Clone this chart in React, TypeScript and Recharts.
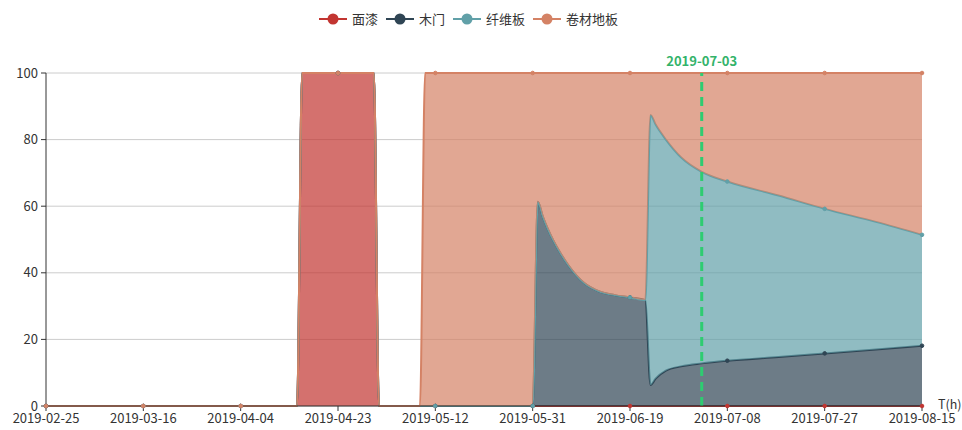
import React from 'react';
import { ComposedChart, Area, XAxis, YAxis, CartesianGrid, ReferenceLine, Label } from 'recharts';

// day offsets from 2019-02-25
const days = [0, 19, 38, 49, 50, 57, 64, 65, 73, 74, 76, 95, 96, 97, 98, 99, 100, 102, 105, 108, 111, 114, 117, 118, 119, 121, 124, 128, 133, 143, 152, 162, 171];
const mianqi = [0, 0, 0, 0, 100, 100, 100, 0, 0, 0, 0, 0, 0, 0, 0, 0, 0, 0, 0, 0, 0, 0, 0, 0, 0, 0, 0, 0, 0, 0, 0, 0, 0];
const mumen = [0, 0, 0, 0, 0, 0, 0, 0, 0, 0, 0, 0, 61.3, 56.8, 53, 49.8, 47, 42.2, 37, 34.4, 33.3, 32.6, 31.8, 6.3, 8.2, 10.6, 11.9, 12.8, 13.6, 14.7, 15.8, 17.0, 18.1];
const xianweiban = [0, 0, 0, 0, 0, 0, 0, 0, 0, 0, 0, 0, 0, 0, 0, 0, 0, 0, 0, 0, 0, 0, 0, 81.1, 76.3, 69.4, 62.7, 57.5, 53.8, 48.5, 43.4, 38.3, 33.3];
const juancai = [0, 0, 0, 0, 0, 0, 0, 0, 0, 100, 100, 100, 38.7, 43.2, 47, 50.2, 53, 57.8, 63, 65.6, 66.7, 67.4, 68.2, 12.6, 15.5, 20, 25.4, 29.7, 32.6, 36.8, 40.8, 44.7, 48.6];

const tickDays = [0, 19, 38, 57, 76, 95, 114, 133, 152, 171];
const tickLabels = ['2019-02-25', '2019-03-16', '2019-04-04', '2019-04-23', '2019-05-12', '2019-05-31', '2019-06-19', '2019-07-08', '2019-07-27', '2019-08-15'];
const yTicks = [0, 20, 40, 60, 80, 100];
const markDay = 128;
const markLabel = '2019-07-03';

const seriesNames = ['面漆', '木门', '纤维板', '卷材地板'];
const seriesKeys = ['mianqi', 'mumen', 'xianweiban', 'juancai'];
const seriesValues = [mianqi, mumen, xianweiban, juancai];
const colors = ['#c23531', '#2f4554', '#61a0a8', '#d48265'];

const data = days.map((d, i) => {
  const row: Record<string, number> = { day: d };
  seriesKeys.forEach((k, j) => { row[k] = seriesValues[j][i]; });
  return row;
});

const tickSet = new Set(tickDays);
const FONT = '"Noto Sans CJK SC", "Noto Sans", sans-serif';

const makeDot = (color: string) => (props: any) => {
  const { cx, cy, payload, index } = props;
  if (!payload || !tickSet.has(payload.day)) return <g key={`e${index}`} />;
  return <circle key={`c${index}`} cx={cx} cy={cy} r={1.8} fill={color} stroke={color} strokeWidth={1} />;
};

const fmt = (v: number) => {
  const i = tickDays.indexOf(v);
  return i >= 0 ? tickLabels[i] : '';
};

export default function App() {
  return (
    <div style={{ position: 'absolute', left: 0, top: 0, width: 962, height: 430, background: '#fff', fontFamily: FONT }}>
      <div style={{ position: 'absolute', left: 319, top: 11, display: 'flex', alignItems: 'center', height: 16 }}>
        {seriesNames.map((n, i) => (
          <div key={n} style={{ display: 'flex', alignItems: 'center', marginRight: 8 }}>
            <svg width={28} height={14} style={{ display: 'block' }}>
              <line x1={0} y1={7} x2={28} y2={7} stroke={colors[i]} strokeWidth={2} />
              <circle cx={14} cy={7} r={5.5} fill={colors[i]} />
            </svg>
            <span style={{ fontSize: 13, color: '#333', marginLeft: 5, lineHeight: '16px' }}>{n}</span>
          </div>
        ))}
      </div>
      <ComposedChart width={962} height={430} data={data} margin={{ top: 73, right: 40, bottom: 0, left: 0 }}>
        <CartesianGrid vertical={false} stroke="#ccc" />
        <XAxis
          dataKey="day"
          type="number"
          domain={[0, 171]}
          ticks={tickDays}
          tickFormatter={fmt}
          interval={0}
          height={24}
          tickSize={5}
          tickMargin={3}
          stroke="#333"
          tick={{ fill: '#333', fontSize: 13, fontFamily: FONT }}
        >
          <Label
            content={(p: any) => {
              const vb = p.viewBox || {};
              return (
                <text x={vb.x + vb.width + 16} y={vb.y - 1} dy="0.35em" fill="#333" fontSize={12.5} fontFamily={FONT}>
                  T(h)
                </text>
              );
            }}
          />
        </XAxis>
        <YAxis
          type="number"
          domain={[0, 100]}
          ticks={yTicks}
          width={46}
          tickSize={5}
          tickMargin={3}
          stroke="#333"
          tick={{ fill: '#333', fontSize: 13, fontFamily: FONT }}
        />
        {seriesKeys.map((k, i) => (
          <Area
            key={k}
            type="monotone"
            dataKey={k}
            name={seriesNames[i]}
            stackId="s"
            stroke={colors[i]}
            strokeWidth={2}
            fill={colors[i]}
            fillOpacity={0.7}
            dot={makeDot(colors[i])}
            activeDot={false}
            isAnimationActive={false}
          />
        ))}
        <ReferenceLine
          x={markDay}
          stroke="#2ecc71"
          strokeWidth={3}
          strokeDasharray="9 6"
          ifOverflow="extendDomain"
        >
          <Label value={markLabel} position="top" offset={7} fill="#33b36a" fontSize={13} fontWeight="bold" fontFamily={FONT} />
        </ReferenceLine>
      </ComposedChart>
    </div>
  );
}
